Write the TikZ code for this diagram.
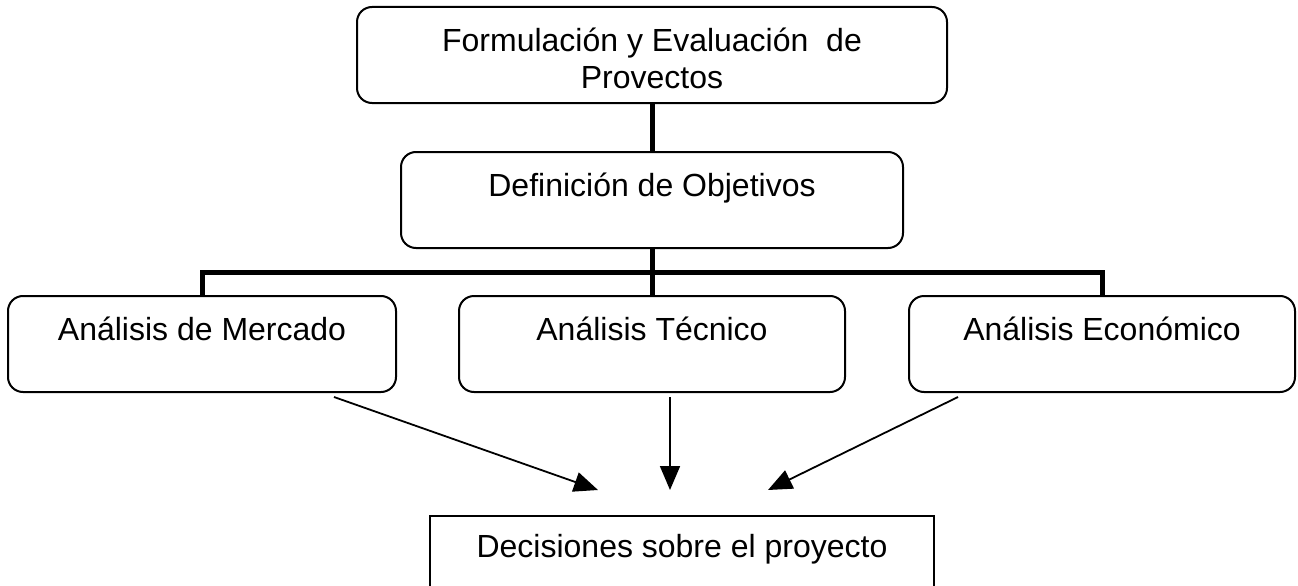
\documentclass[tikz,border=0pt]{standalone}
\usepackage{fontspec}
\setmainfont{Liberation Sans}
\usetikzlibrary{arrows.meta}
\begin{document}
\begin{tikzpicture}[x=1pt,y=-1pt,
  box/.style={draw, line width=2pt, rounded corners=15pt, inner sep=0pt,
    minimum height=96pt, text height=24pt, text depth=32pt,
    font=\fontsize{32}{36.8}\selectfont},
  sqbox/.style={box, rounded corners=0pt},
  conn/.style={line width=5pt, line join=miter},
  arr/.style={line width=1.8pt, -{Triangle[length=24pt,width=20pt]}}
]
\useasboundingbox (0,0) rectangle (1298,586);

\node[box, minimum width=590pt, text depth=30pt] (top) at (652,55)
  {\begin{tabular}[t]{@{}c@{}}Formulación y Evaluación\ \ de\\ Provectos\end{tabular}};
\node[box, minimum width=502pt] (obj) at (652,200) {Definición de Objetivos};
\node[box, minimum width=388pt] (mkt) at (202,344) {Análisis de Mercado};
\node[box, minimum width=386pt] (tec) at (652,344) {Análisis Técnico};
\node[box, minimum width=386pt] (eco) at (1102,344) {Análisis Económico};
\node[sqbox, minimum width=504pt, text depth=38pt] (dec) at (682,564) {Decisiones sobre el proyecto};

\coordinate (bar) at (652,272);
\draw[conn] (top.south) -- (obj.north);
\draw[conn] (obj.south) -- (tec.north);
\draw[conn] (mkt.north) |- (bar) -| (eco.north);

\coordinate (a1) at (334,397);
\coordinate (a2) at (670,397);
\coordinate (a3) at (958,397);
\coordinate (t1) at (598,490);
\coordinate (t2) at (670,490);
\coordinate (t3) at (768,490);
\draw[arr] (a1) -- (t1);
\draw[arr] (a2) -- (t2);
\draw[arr] (a3) -- (t3);
\end{tikzpicture}
\end{document}
